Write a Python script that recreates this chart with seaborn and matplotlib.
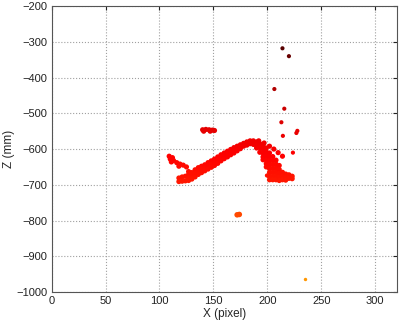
import pandas as pd
import matplotlib
matplotlib.use('Agg')
import matplotlib.pyplot as plt
from matplotlib.colors import LinearSegmentedColormap
import seaborn as sns

# main band of points (x in pixel, z in mm)
band_x = [118, 118,
          121, 121,
          124, 124,
          127, 127, 127,
          130, 130, 130,
          133, 133, 133,
          136, 136, 136,
          139, 139, 139,
          142, 142, 142,
          145, 145, 145,
          148, 148, 148,
          151, 151, 151,
          154, 154, 154,
          157, 157, 157,
          160, 160, 160,
          163, 163, 163,
          166, 166, 166,
          169, 169, 169,
          172, 172, 172,
          175, 175, 175,
          178, 178,
          181, 181,
          184, 184,
          187, 187,
          190, 190, 190,
          193, 193, 193,
          196, 196, 196, 196, 196,
          199, 199, 199, 199, 199, 199,
          202, 202, 202, 202, 202, 202, 202, 202,
          205, 205, 205, 205, 205, 205, 205,
          208, 208, 208, 208, 208, 208,
          211, 211, 211, 211, 211,
          214, 214, 214,
          217, 217, 217,
          220, 220,
          223, 223]
band_z = [-681, -691,
          -678, -690,
          -676, -689,
          -671, -681, -688,
          -666, -676, -684,
          -658, -668, -678,
          -652, -662, -671,
          -648, -657, -666,
          -644, -653, -661,
          -638, -647, -656,
          -633, -642, -651,
          -628, -637, -646,
          -622, -631, -640,
          -616, -625, -633,
          -611, -619, -627,
          -606, -614, -622,
          -601, -609, -616,
          -596, -604, -611,
          -592, -599, -605,
          -588, -594, -599,
          -584, -592,
          -580, -589,
          -577, -585,
          -577, -587,
          -580, -590, -597,
          -585, -596, -609,
          -590, -600, -611, -622, -630,
          -597, -608, -619, -630, -641, -650,
          -611, -622, -633, -644, -655, -666, -677, -686,
          -621, -632, -643, -654, -665, -676, -686,
          -631, -642, -653, -664, -675, -686,
          -646, -657, -668, -679, -688,
          -665, -676, -686,
          -670, -680, -687,
          -672, -682,
          -676, -683]

# thin streak above the descending part
streak_x = [192, 197, 202, 206, 210, 214]
streak_z = [-577, -583, -592, -600, -610, -620]

# small blobs on the left end
left_x = [109, 110, 111, 113, 112, 116, 119, 122, 125, 118, 127, 130]
left_z = [-620, -628, -636, -632, -624, -638, -642, -645, -650, -648, -663, -667]

# short cluster near -545 mm
mid_x = [140, 143, 146, 149, 151, 141, 147]
mid_z = [-546, -545, -546, -547, -548, -550, -550]

# isolated points
iso_x = [214, 220, 206.5, 215.7, 213, 227.8, 226.9, 214.4, 223.7, 199.6]
iso_z = [-318, -340, -432, -487, -525, -549, -555, -563, -610, -674]

blob_x = [172, 174]
blob_z = [-784, -783]

far_x = [235]
far_z = [-965]

df_band = pd.DataFrame({'x': band_x + streak_x + left_x + mid_x,
                        'z': band_z + streak_z + left_z + mid_z})
df_iso = pd.DataFrame({'x': iso_x, 'z': iso_z})
df_blob = pd.DataFrame({'x': blob_x, 'z': blob_z})
df_far = pd.DataFrame({'x': far_x, 'z': far_z})
for d in (df_band, df_iso, df_blob, df_far):
    d['depth'] = -d['z']

# colour by depth: dark red at the top, red in the band, orange at the bottom
stops = [(0.0, '#4a0000'), (130 / 700, '#b00000'), (240 / 700, '#e40000'),
         (320 / 700, '#ff0000'), (400 / 700, '#ff1a00'), (485 / 700, '#ff4a00'),
         (1.0, '#ffa400')]
depth_cmap = LinearSegmentedColormap.from_list('depth', stops)

sns.set_style('white')
plt.rcParams['font.family'] = ['Liberation Sans', 'DejaVu Sans']

fig = plt.figure(figsize=(4.0, 3.23), dpi=100)
ax = fig.add_axes([0.129, 0.096, 0.863, 0.885])

norm = (300, 1000)
for d, s in ((df_band, 14), (df_iso, 9), (df_blob, 16), (df_far, 6)):
    sns.scatterplot(data=d, x='x', y='z', hue='depth', palette=depth_cmap, hue_norm=norm,
                    s=s, linewidth=0, legend=False, ax=ax)

ax.set_xlim(0, 320)
ax.set_ylim(-1000, -200)
ax.set_xticks(range(0, 301, 50))
ax.set_yticks(range(-1000, -199, 100))
ax.grid(True, linestyle=':', color='#a0a0a0', linewidth=0.8)
ax.tick_params(direction='in', length=3, labelsize=8, top=True, right=True,
               colors='#222222', pad=3)
for sp in ax.spines.values():
    sp.set_color('#555555')
    sp.set_linewidth(0.8)
ax.set_xlabel('X (pixel)', fontsize=8.5, labelpad=1)
ax.set_ylabel('Z (mm)', fontsize=8.5, labelpad=1)

fig.savefig('out.png', dpi=100)
